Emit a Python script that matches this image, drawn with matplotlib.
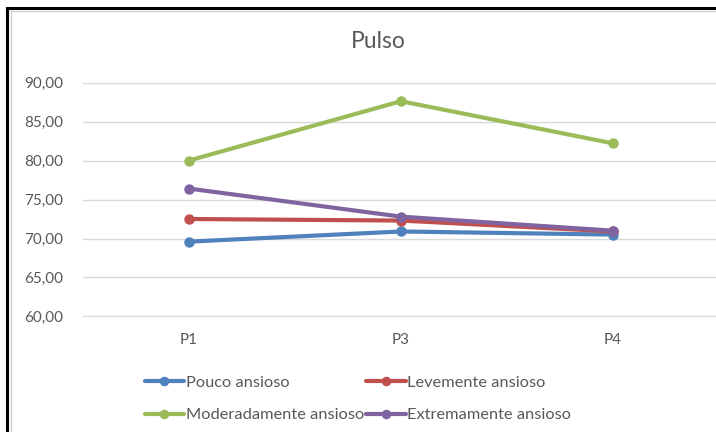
import matplotlib
matplotlib.use("Agg")
import matplotlib.pyplot as plt
from matplotlib.lines import Line2D
from matplotlib.ticker import FuncFormatter

# Pulse means per anxiety group at each measurement point
categories = ["P1", "P3", "P4"]
pouco = [69.6, 70.9, 70.5]
levemente = [72.5, 72.3, 70.9]
moderadamente = [80.0, 87.6, 82.2]
extremamente = [76.4, 72.8, 71.0]

series_names = ["Pouco ansioso", "Levemente ansioso",
                "Moderadamente ansioso", "Extremamente ansioso"]
series_values = [pouco, levemente, moderadamente, extremamente]
colors = ["#4F81BD", "#C0504D", "#9BBB59", "#8064A2"]

plt.rcParams["font.family"] = ["Lato", "DejaVu Sans"]
text_gray = "#595959"

W, H = 716, 432
fig = plt.figure(figsize=(W / 100, H / 100), dpi=100)
fig.patch.set_facecolor("white")

ax_left, ax_right = 83, 719
ax_top, ax_bottom = 82.5, 316.5
ax = fig.add_axes([ax_left / W, 1 - ax_bottom / H,
                   (ax_right - ax_left) / W, (ax_bottom - ax_top) / H])

x = list(range(len(categories)))
handles = []
for name, vals, c in zip(series_names, series_values, colors):
    h, = ax.plot(x, vals, color=c, lw=3, marker="o", markersize=6.5,
                 solid_capstyle="round", label=name, zorder=3)
    handles.append(h)

ax.set_xlim(-0.5, len(categories) - 0.5)
ax.set_ylim(60, 90)
ax.set_yticks(range(60, 91, 5))
ax.yaxis.set_major_formatter(FuncFormatter(lambda v, p: f"{v:.2f}".replace(".", ",")))
ax.set_xticks(x)
ax.set_xticklabels(categories)

ax.grid(axis="y", color="#D9D9D9", lw=1)
ax.set_axisbelow(True)
for s in ax.spines.values():
    s.set_visible(False)
ax.tick_params(axis="both", length=0, colors=text_gray, labelsize=11)
ax.tick_params(axis="y", pad=14)
ax.tick_params(axis="x", pad=12)

fig.text(378 / W, 1 - 42 / H, "Pulso", ha="center", va="center",
         fontsize=16.5, color=text_gray)

# Legend filled row by row (two entries per row)
order = [0, 2, 1, 3]
leg = fig.legend([handles[i] for i in order], [series_names[i] for i in order],
                 loc="center", bbox_to_anchor=(358 / W, 1 - 399 / H), ncol=2,
                 frameon=False, fontsize=11.8, handlelength=2.4, handletextpad=0.1,
                 columnspacing=0.15, labelspacing=1.1, markerscale=0.9)
for t in leg.get_texts():
    t.set_color(text_gray)

# Outer chart frame
fig.add_artist(Line2D([7 / W, 7 / W], [0, 1 - 8 / H], transform=fig.transFigure,
                      color="black", lw=2.2))
fig.add_artist(Line2D([7 / W, 1], [1 - 8 / H, 1 - 8 / H], transform=fig.transFigure,
                      color="black", lw=2.2))
fig.add_artist(Line2D([10.5 / W, 10.5 / W], [0, 1 - 10.5 / H], transform=fig.transFigure,
                      color="#D0D0D0", lw=1))
fig.add_artist(Line2D([10.5 / W, 1], [1 - 10.5 / H, 1 - 10.5 / H], transform=fig.transFigure,
                      color="#D0D0D0", lw=1))

fig.savefig("out.png", dpi=100)
